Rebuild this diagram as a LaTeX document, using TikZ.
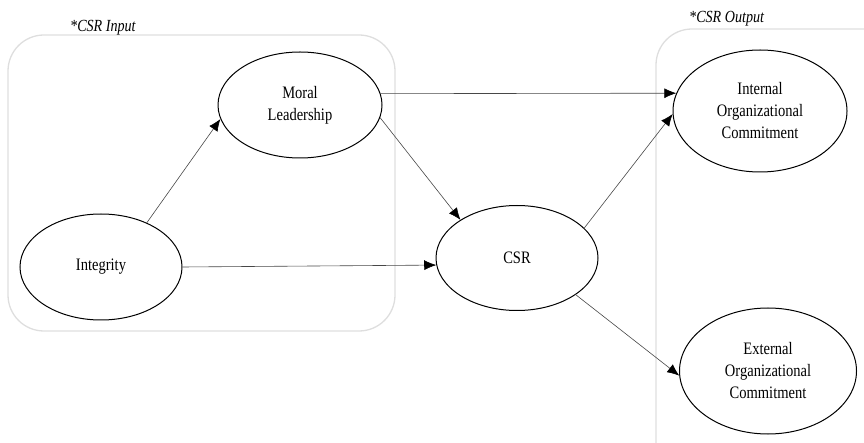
\documentclass[tikz,border=0pt]{standalone}
\usepackage{fontspec}
\setmainfont{Liberation Serif}
\newfontfamily\narrowserif[FakeStretch=0.83]{Liberation Serif}
\usetikzlibrary{shapes.geometric,arrows.meta}
\tikzstyle{construct}=[ellipse,draw=black,line width=1pt,inner sep=0pt,
align=center,font=\narrowserif\fontsize{17.5}{22}\selectfont]
\tikzstyle{group}=[draw=black!13,line width=1.3pt,rounded corners=36pt]
\tikzstyle{grouplabel}=[anchor=base west,inner sep=0pt,
font=\narrowserif\fontsize{17}{19}\selectfont\itshape]
\tikzstyle{link}=[draw=black!72,line width=0.6pt,
-{Latex[length=12pt,width=10pt,color=black]}]

\begin{document}
\begin{tikzpicture}[x=1pt,y=-1pt]
            \useasboundingbox (0,0) rectangle (864,443);

            % GROUP BOXES

            \draw[group] (8,35) rectangle (395,331);
            \draw[group] (656,29) rectangle (900,480);
            \node[grouplabel] (inlabel) at (70,32) {*CSR Input};
            \node[grouplabel] (outlabel) at (689,23) {*CSR Output};

            % CONSTRUCTS

            \node[construct,minimum width=162pt,minimum height=106pt] (integ) at (101,267) {Integrity};
            \node[construct,minimum width=164pt,minimum height=106pt] (moral) at (300,105) {Moral\\Leadership};
            \node[construct,minimum width=162pt,minimum height=105pt] (csr) at (517,258) {CSR};
            \node[construct,minimum width=174pt,minimum height=122pt] (intern) at (760,111) {Internal\\Organizational\\Commitment};
            \node[construct,minimum width=177pt,minimum height=126pt] (extern) at (768,371) {External\\Organizational\\Commitment};

            % PATHS

            \draw[link] (integ.44) -- (moral.190);
            \draw[link] (integ.east) -- (csr.185);
            \draw[link] (moral.-9) -- (csr.146);
            \draw[link] (moral.8) -- (intern.168);
            \draw[link] (csr.24) -- (intern.182);
            \draw[link] (csr.-32) -- (extern.183);

\end{tikzpicture}
\end{document}
